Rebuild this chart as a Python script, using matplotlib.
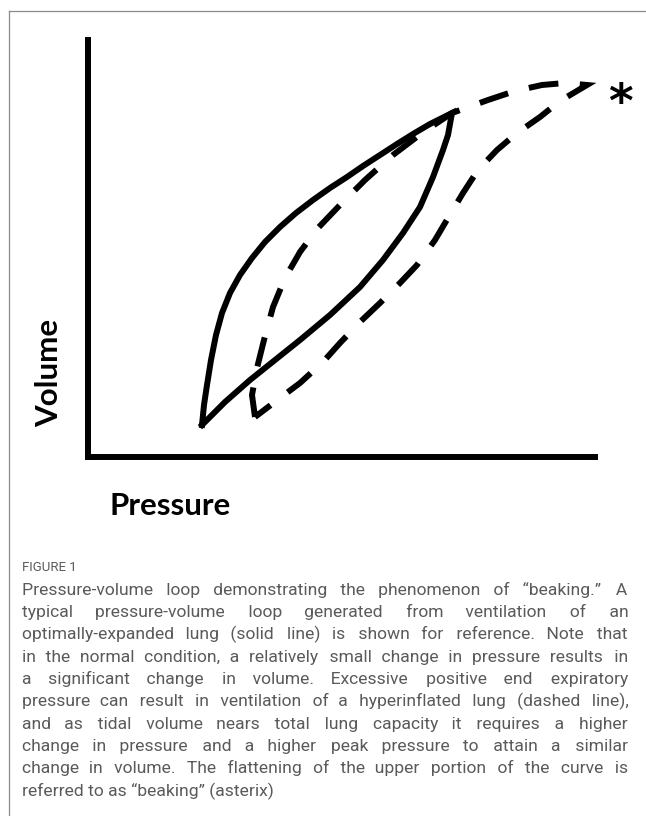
import matplotlib
matplotlib.use('Agg')
import matplotlib.pyplot as plt
from matplotlib.lines import Line2D

# Figure size in pixels (dpi 100).
W_PX = 646
H_PX = 816

# Normal lung loop (solid line), arbitrary units.
solid_p = [114, 116, 119, 123, 128, 134, 142, 152, 164, 177, 192, 208, 225, 242, 259,
           275, 292, 309, 325, 342, 364,
           360, 355, 345, 332, 315, 295, 272, 242, 212, 187, 162, 137, 114]
solid_v = [32, 52, 72, 97, 122, 144, 164, 182, 199, 215, 230, 244, 257, 269, 280,
           291, 302, 313, 323, 333, 344,
           322, 307, 280, 250, 224, 197, 170, 142, 117, 97, 77, 55, 32]

# Hyperinflated lung loop (dashed line).
dashed_p = [167, 164, 169, 176, 185, 197, 212, 230, 252, 277, 305, 334, 364,
            400, 427, 454, 477, 499,
            472, 452, 429, 409, 390, 375, 360, 347, 329, 312, 292, 272, 252, 235, 212, 192, 167]
dashed_v = [40, 62, 89, 117, 150, 179, 205, 229, 252, 277, 302, 324, 344,
            357, 366, 372, 374, 372,
            356, 340, 324, 307, 287, 264, 239, 217, 192, 174, 154, 135, 114, 95, 74, 59, 40]

# Where the asterisk ("beaking") sits.
beak_p = 532
beak_v = 364

x_label = 'Pressure'
y_label = 'Volume'
fig_label = 'FIGURE 1'
caption_lines = [
    'Pressure-volume loop demonstrating the phenomenon of \u201cbeaking.\u201d A',
    'typical pressure-volume loop generated from ventilation of an',
    'optimally-expanded lung (solid line) is shown for reference. Note that',
    'in the normal condition, a relatively small change in pressure results in',
    'a significant change in volume. Excessive positive end expiratory',
    'pressure can result in ventilation of a hyperinflated lung (dashed line),',
    'and as tidal volume nears total lung capacity it requires a higher',
    'change in pressure and a higher peak pressure to attain a similar',
    'change in volume. The flattening of the upper portion of the curve is',
    'referred to as \u201cbeaking\u201d (asterix)',
]

LW = 4.3
GREY = '#5a5a5a'
HAIR = '\u200a'


def fx(px):
    return px / W_PX


def fy(py):
    return 1 - py / H_PX


fig = plt.figure(figsize=(W_PX / 100, H_PX / 100), dpi=100)
fig.patch.set_facecolor('white')

# Plot area: origin of the axes at (88, 457) px.
ax = fig.add_axes([fx(88), fy(457), fx(595 - 88), (457 - 40) / H_PX])
ax.set_xlim(0, 507)
ax.set_ylim(0, 417)
ax.set_xticks([])
ax.set_yticks([])
for side in ('top', 'right'):
    ax.spines[side].set_visible(False)
for side in ('left', 'bottom'):
    ax.spines[side].set_linewidth(LW)
    ax.spines[side].set_capstyle('projecting')

ax.plot(solid_p, solid_v, color='black', lw=LW, solid_joinstyle='miter',
        clip_on=False)
ax.plot(dashed_p, dashed_v, color='black', lw=LW, linestyle=(0, (5, 3.6)),
        dash_joinstyle='miter', clip_on=False)
ax.annotate('*', (beak_p, beak_v), xytext=(0, -8), textcoords='offset points',
            fontsize=34, fontweight='bold', ha='center', va='center',
            family='DejaVu Sans', annotation_clip=False)

label_font = dict(fontsize=22.5, fontweight='bold', family='Lato')
ax.set_xlabel(x_label, ha='center', va='baseline', **label_font)
ax.xaxis.set_label_coords((170 - 88) / 507, (457 - 515) / 417)
ax.set_ylabel(y_label, rotation=90, rotation_mode='anchor', ha='center',
              va='baseline', **label_font)
ax.yaxis.set_label_coords((58 - 88) / 507, (457 - 373) / 417)

# Frame lines (top and left only).
fig.add_artist(Line2D([fx(9), 1], [fy(11), fy(11)], color='#8a8a8a', lw=0.9,
                      transform=fig.transFigure))
fig.add_artist(Line2D([fx(9), fx(9)], [fy(11), 0], color='#8a8a8a', lw=0.9,
                      transform=fig.transFigure))

# Caption: one text per line, justified by padding the word gaps with hair spaces.
cap_font = dict(fontsize=12.6, color=GREY, fontweight='normal',
                family=['Roboto', 'DejaVu Sans'])
fig.text(fx(22), fy(571), fig_label, fontsize=9.5, color=GREY, family='Roboto',
         va='baseline')

renderer = fig.canvas.get_renderer()
probe = fig.text(0, 0, '', **cap_font)


def text_width(s):
    probe.set_text(s)
    return probe.get_window_extent(renderer).width


hair_w = (text_width('i' + HAIR * 20 + 'i') - text_width('ii')) / 20

left, right = 22, 628
line_gap = 22.3
for i, line in enumerate(caption_lines):
    y = fy(595 + i * line_gap)
    words = line.split(' ')
    if i < len(caption_lines) - 1 and hair_w > 0:
        extra = (right - left) - text_width(line)
        n_hair = max(0, int(round(extra / hair_w)))
        n_gaps = len(words) - 1
        parts = [words[0]]
        for g in range(n_gaps):
            k = (n_hair * (g + 1)) // n_gaps - (n_hair * g) // n_gaps
            parts.append(' ' + HAIR * k + words[g + 1])
        line = ''.join(parts)
    fig.text(fx(left), y, line, va='baseline', **cap_font)
probe.remove()

fig.savefig('out.png', dpi=100, facecolor='white')
